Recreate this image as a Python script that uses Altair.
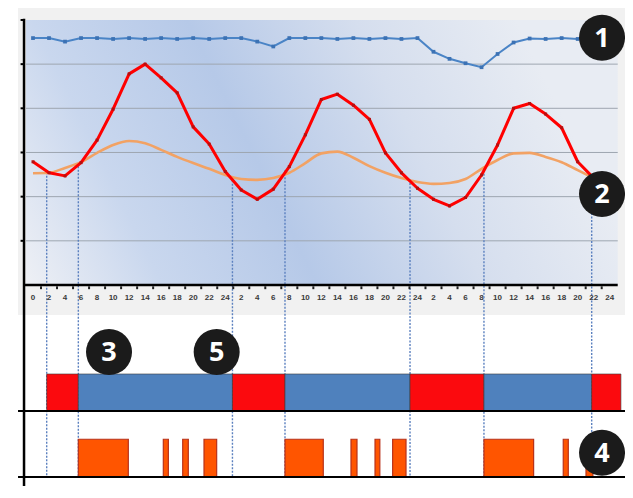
import altair as alt
import pandas as pd

# ---------------- data ----------------
hours = [0, 2, 4, 6, 8, 10, 12, 14, 16, 18, 20, 22, 24, 26, 28, 30, 32, 34,
         36, 38, 40, 42, 44, 46, 48, 50, 52, 54, 56, 58, 60, 62, 64, 66, 68, 70]

series_1 = [5.59, 5.59, 5.51, 5.59, 5.59, 5.57, 5.59, 5.57, 5.59, 5.57, 5.59, 5.57,
            5.59, 5.59, 5.51, 5.40, 5.59, 5.59, 5.59, 5.57, 5.59, 5.57, 5.59, 5.57,
            5.59, 5.28, 5.12, 5.02, 4.93, 5.23, 5.49, 5.58, 5.57, 5.59, 5.57, 5.59]

series_red = [2.79, 2.54, 2.47, 2.77, 3.28, 3.98, 4.78, 5.00, 4.69, 4.35, 3.58, 3.19,
              2.57, 2.15, 1.94, 2.17, 2.68, 3.40, 4.20, 4.32, 4.07, 3.75, 2.99, 2.54,
              2.19, 1.94, 1.79, 1.98, 2.49, 3.17, 4.00, 4.11, 3.87, 3.56, 2.79, 2.42]

series_orange = [2.53, 2.54, 2.65, 2.78, 2.99, 3.17, 3.26, 3.21, 3.06, 2.90, 2.76, 2.63,
                 2.49, 2.40, 2.38, 2.42, 2.54, 2.76, 2.98, 3.02, 2.88, 2.69, 2.54, 2.42,
                 2.33, 2.29, 2.31, 2.40, 2.63, 2.83, 2.98, 2.99, 2.90, 2.78, 2.60, 2.42]

cross_hours = [1.71, 5.66, 24.9, 31.46, 47.07, 56.3, 69.75]
cross_values = [2.55, 2.77, 2.45, 2.60, 2.39, 2.60, 2.42]

state_start = [1.71, 5.66, 24.9, 31.46, 47.07, 56.3, 69.75]
state_end = [5.66, 24.9, 31.46, 47.07, 56.3, 69.75, 73.4]
state_kind = ["red", "blue", "red", "blue", "red", "blue", "red"]

activity_start = [5.66, 16.27, 18.69, 21.35, 31.46, 39.7, 42.7, 44.9, 56.3, 66.2, 69.04]
activity_end = [11.9, 16.9, 19.39, 22.93, 36.24, 40.45, 43.3, 46.57, 62.5, 66.83, 69.9]

tick_hours = [0, 2, 4, 6, 8, 10, 12, 14, 16, 18, 20, 22, 24, 26, 28, 30, 32, 34, 36,
              38, 40, 42, 44, 46, 48, 50, 52, 54, 56, 58, 60, 62, 64, 66, 68, 70, 72]
tick_labels = ["0", "2", "4", "6", "8", "10", "12", "14", "16", "18", "20", "22", "24",
               "2", "4", "6", "8", "10", "12", "14", "16", "18", "20", "22", "24",
               "2", "4", "6", "8", "10", "12", "14", "16", "18", "20", "22", "24"]
minor_ticks = [1, 3, 5, 7, 9, 11, 13, 15, 17, 19, 21, 23, 25, 27, 29, 31, 33, 35,
               37, 39, 41, 43, 45, 47, 49, 51, 53, 55, 57, 59, 61, 63, 65, 67, 69, 71]
grid_values = [1, 2, 3, 4, 5]
y_ticks = [1, 2, 3, 4, 5, 6]

badge_labels = ["1", "2", "3", "5", "4"]
badge_hours = [71.04, 71.04, 9.49, 22.93, 71.04]
badge_values = [5.60, 2.06, -1.52, -1.52, -3.80]

# ---------------- layout (data coordinates) ----------------
X_DOM = [-3.121, 73.909]
Y_DOM = [-4.551, 6.271]
xs = alt.Scale(domain=X_DOM, nice=False, zero=False)
ys = alt.Scale(domain=Y_DOM, nice=False, zero=False)

ROW1_TOP, ROW1_BASE = -2.015, -2.853
ROW2_TOP, ROW2_BASE = -3.493, -4.347


def X(f):
    return alt.X(f, type="quantitative", scale=xs, axis=None)


def Y(f):
    return alt.Y(f, type="quantitative", scale=ys, axis=None)


def rect_df(x0, x1, y0, y1):
    return pd.DataFrame({"x0": [x0], "x1": [x1], "y0": [y0], "y1": [y1]})


bg = alt.Chart(rect_df(-1.873, 73.909, 6.271, -0.679)).mark_rect(
    fill="#f1f1f1").encode(x=X("x0"), x2="x1", y=Y("y0"), y2="y1")

grad = alt.Chart(rect_df(-0.874, 73.0, 6.0, 0.0)).mark_rect(
    fill=alt.Gradient(
        gradient="linear", x1=0, y1=1, x2=1, y2=0.78,
        stops=[alt.GradientStop(offset=0.0, color="#eef0f5"),
               alt.GradientStop(offset=0.22, color="#c9d7ee"),
               alt.GradientStop(offset=0.47, color="#b6c9e8"),
               alt.GradientStop(offset=0.74, color="#d5deee"),
               alt.GradientStop(offset=1.0, color="#e8ecf3")])
).encode(x=X("x0"), x2="x1", y=Y("y0"), y2="y1")

grid_df = pd.DataFrame({"v": grid_values, "a": -0.874, "b": 73.0})
grid = alt.Chart(grid_df).mark_rule(color="#9ea6b0", strokeWidth=1).encode(
    x=X("a"), x2="b", y=Y("v"))

cross_df = pd.DataFrame({"h": cross_hours, "v": cross_values, "b": ROW2_BASE})
cross = alt.Chart(cross_df).mark_rule(
    color="#5b80bf", strokeWidth=1.4, strokeDash=[2, 1.5]).encode(
    x=X("h"), y=Y("v"), y2="b")

line_df = pd.DataFrame({"h": hours, "s1": series_1, "red": series_red,
                        "orange": series_orange})

orange_line = alt.Chart(line_df).mark_line(
    color="#f2a264", strokeWidth=2.6, interpolate="monotone").encode(
    x=X("h"), y=Y("orange"))

red_line = alt.Chart(line_df).mark_line(
    color="#ff0000", strokeWidth=3, strokeJoin="round").encode(
    x=X("h"), y=Y("red"))
red_pts = alt.Chart(line_df).mark_square(
    color="#b31010", size=9, opacity=1).encode(x=X("h"), y=Y("red"))

blue_line = alt.Chart(line_df).mark_line(
    color="#4a84c6", strokeWidth=2).encode(x=X("h"), y=Y("s1"))
blue_pts = alt.Chart(line_df).mark_square(
    color="#3c72b4", size=14, opacity=1).encode(x=X("h"), y=Y("s1"))

state_df = pd.DataFrame({"a": state_start, "b": state_end, "kind": state_kind,
                         "y0": ROW1_BASE, "y1": ROW1_TOP})
states = alt.Chart(state_df).mark_rect(stroke="#3a3a3a", strokeWidth=0.6).encode(
    x=X("a"), x2="b", y=Y("y0"), y2="y1",
    fill=alt.Fill("kind:N", scale=alt.Scale(domain=["red", "blue"],
                                            range=["#fb0a0e", "#4f81bd"]),
                  legend=None))

act_df = pd.DataFrame({"a": activity_start, "b": activity_end,
                       "y0": ROW2_BASE, "y1": ROW2_TOP})
acts = alt.Chart(act_df).mark_rect(
    fill="#ff5500", stroke="#b8321a", strokeWidth=1.2).encode(
    x=X("a"), x2="b", y=Y("y0"), y2="y1")

# axes drawn as rules
xaxis = alt.Chart(pd.DataFrame({"a": [-1.12], "b": [73.0], "v": [0.0]})).mark_rule(
    color="#000000", strokeWidth=2.5).encode(x=X("a"), x2="b", y=Y("v"))
yaxis = alt.Chart(pd.DataFrame({"h": [-1.12], "a": [6.03], "b": [-4.57]})).mark_rule(
    color="#000000", strokeWidth=2.5).encode(x=X("h"), y=Y("a"), y2="b")
ytick_df = pd.DataFrame({"v": y_ticks, "a": -1.55, "b": -1.12})
yticks = alt.Chart(ytick_df).mark_rule(color="#000000", strokeWidth=2).encode(
    x=X("a"), x2="b", y=Y("v"))
lower_df = pd.DataFrame({"v": [ROW1_BASE, ROW2_BASE], "a": -1.87, "b": 74.28})
lower = alt.Chart(lower_df).mark_rule(color="#000000", strokeWidth=2).encode(
    x=X("a"), x2="b", y=Y("v"))

minor_df = pd.DataFrame({"h": minor_ticks, "a": -0.03, "b": -0.095})
minor = alt.Chart(minor_df).mark_rule(color="#222222", strokeWidth=2).encode(
    x=X("h"), y=Y("a"), y2="b")

lab_df = pd.DataFrame({"h": tick_hours, "t": tick_labels, "v": -0.2875})
labels = alt.Chart(lab_df).mark_text(
    font="Liberation Sans", fontSize=8, fontWeight="bold", color="#3a3a3a",
    align="center", baseline="middle").encode(x=X("h"), y=Y("v"), text="t:N")

badge_df = pd.DataFrame({"h": badge_hours, "v": badge_values, "t": badge_labels})
badges = alt.Chart(badge_df).mark_circle(
    size=2116, color="#1b1b1b", opacity=1).encode(x=X("h"), y=Y("v"))
badge_txt = alt.Chart(badge_df).mark_text(
    font="Open Sans", fontSize=27, fontWeight="bold", color="#ffffff",
    align="center", baseline="middle", dy=1).encode(x=X("h"), y=Y("v"), text="t:N")

chart = alt.layer(
    bg, grad, grid, cross, orange_line, red_line, red_pts, blue_line, blue_pts,
    states, acts, xaxis, yaxis, yticks, lower, minor, labels, badges, badge_txt
).properties(
    width=617, height=478, padding=0,
    autosize=alt.AutoSizeParams(type="none")
).configure_view(stroke=None)

chart.save("out.html", embed_options={"renderer": "svg", "actions": False})
